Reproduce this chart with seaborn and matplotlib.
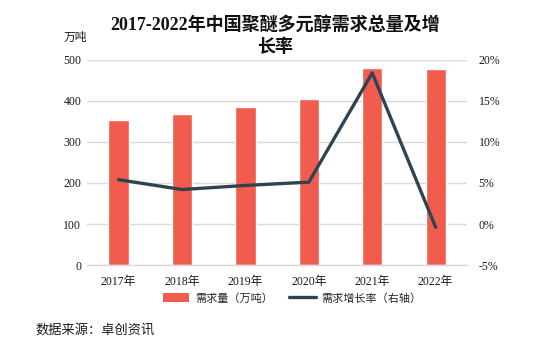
import numpy as np
import pandas as pd
import matplotlib
matplotlib.use("Agg")
import matplotlib.pyplot as plt
from matplotlib.patches import Patch
from matplotlib.lines import Line2D
import seaborn as sns

years = ["2017年", "2018年", "2019年", "2020年", "2021年", "2022年"]
demand = [353, 367, 385, 405, 479, 477]
growth = [5.4, 4.2, 4.7, 5.1, 18.4, -0.4]

left_ticks = [0, 100, 200, 300, 400, 500]
right_ticks = [-5, 0, 5, 10, 15, 20]

BAR = "#F25C4E"
LINE = "#2E4452"
GRID = "#D9D9D9"

sns.set_theme(style="white")
FAM = ["Liberation Serif", "Noto Sans CJK SC", "DejaVu Sans"]
plt.rcParams["font.family"] = FAM

df = pd.DataFrame({"year": years, "demand": demand, "growth": growth})

fig = plt.figure(figsize=(5.36, 3.42), dpi=100)
ax = fig.add_axes([0.162, 0.225, 0.710, 0.600])

sns.barplot(data=df, x="year", y="demand", color=BAR, width=0.32,
            saturation=1, ax=ax, zorder=2)
ax.set_ylim(0, 500)
ax.set_yticks(left_ticks)
ax.set_yticklabels([str(t) for t in left_ticks], fontsize=8.5)
ax.yaxis.grid(True, color=GRID, linewidth=1)
ax.set_axisbelow(True)
for s in ["top", "right", "left"]:
    ax.spines[s].set_visible(False)
ax.spines["bottom"].set_color(GRID)
ax.spines["bottom"].set_linewidth(1)
ax.tick_params(axis="y", length=0, pad=4, colors="#1a1a1a")
ax.tick_params(axis="x", length=0, pad=8, colors="#1a1a1a")
ax.set_xticks(range(len(years)))
ax.set_xticklabels(years, fontsize=8.5)
ax.set_xlabel("")
ax.set_ylabel("")

ax2 = ax.twinx()
sns.pointplot(data=df, x="year", y="growth", color=LINE, markers="",
              linewidth=2.4, ax=ax2, errorbar=None)
ax2.set_ylim(-5, 20)
ax2.set_yticks(right_ticks)
ax2.set_yticklabels([f"{t}%" for t in right_ticks], fontsize=8.5)
for s in ["top", "right", "left", "bottom"]:
    ax2.spines[s].set_visible(False)
ax2.tick_params(axis="y", length=0, pad=8, colors="#1a1a1a")
ax2.set_ylabel("")
ax2.set_xlabel("")
ax.set_xlim(-0.5, 5.5)
ax2.set_xlim(-0.5, 5.5)

fig.text(0.513, 0.925, "2017-2022年中国聚醚多元醇需求总量及增",
         ha="center", va="center", fontsize=13, fontweight="bold", color="#111111")
fig.text(0.513, 0.862, "长率", ha="center", va="center", fontsize=13,
         fontweight="bold", color="#111111")
fig.text(0.140, 0.888, "万吨", ha="center", va="center", fontsize=8.5, color="#1a1a1a")

handles = [Patch(facecolor=BAR, edgecolor="none"),
           Line2D([0], [0], color=LINE, linewidth=2.4)]
fig.legend(handles, ["需求量（万吨）", "需求增长率（右轴）"],
           loc="center", bbox_to_anchor=(0.545, 0.128), ncol=2, frameon=False,
           fontsize=8, handlelength=2.4, handleheight=0.8, columnspacing=1.5,
           handletextpad=0.5)

fig.text(0.067, 0.035, "数据来源：卓创资讯", ha="left", va="center",
         fontsize=9.5, color="#1a1a1a")

fig.savefig("out.png", dpi=100)
